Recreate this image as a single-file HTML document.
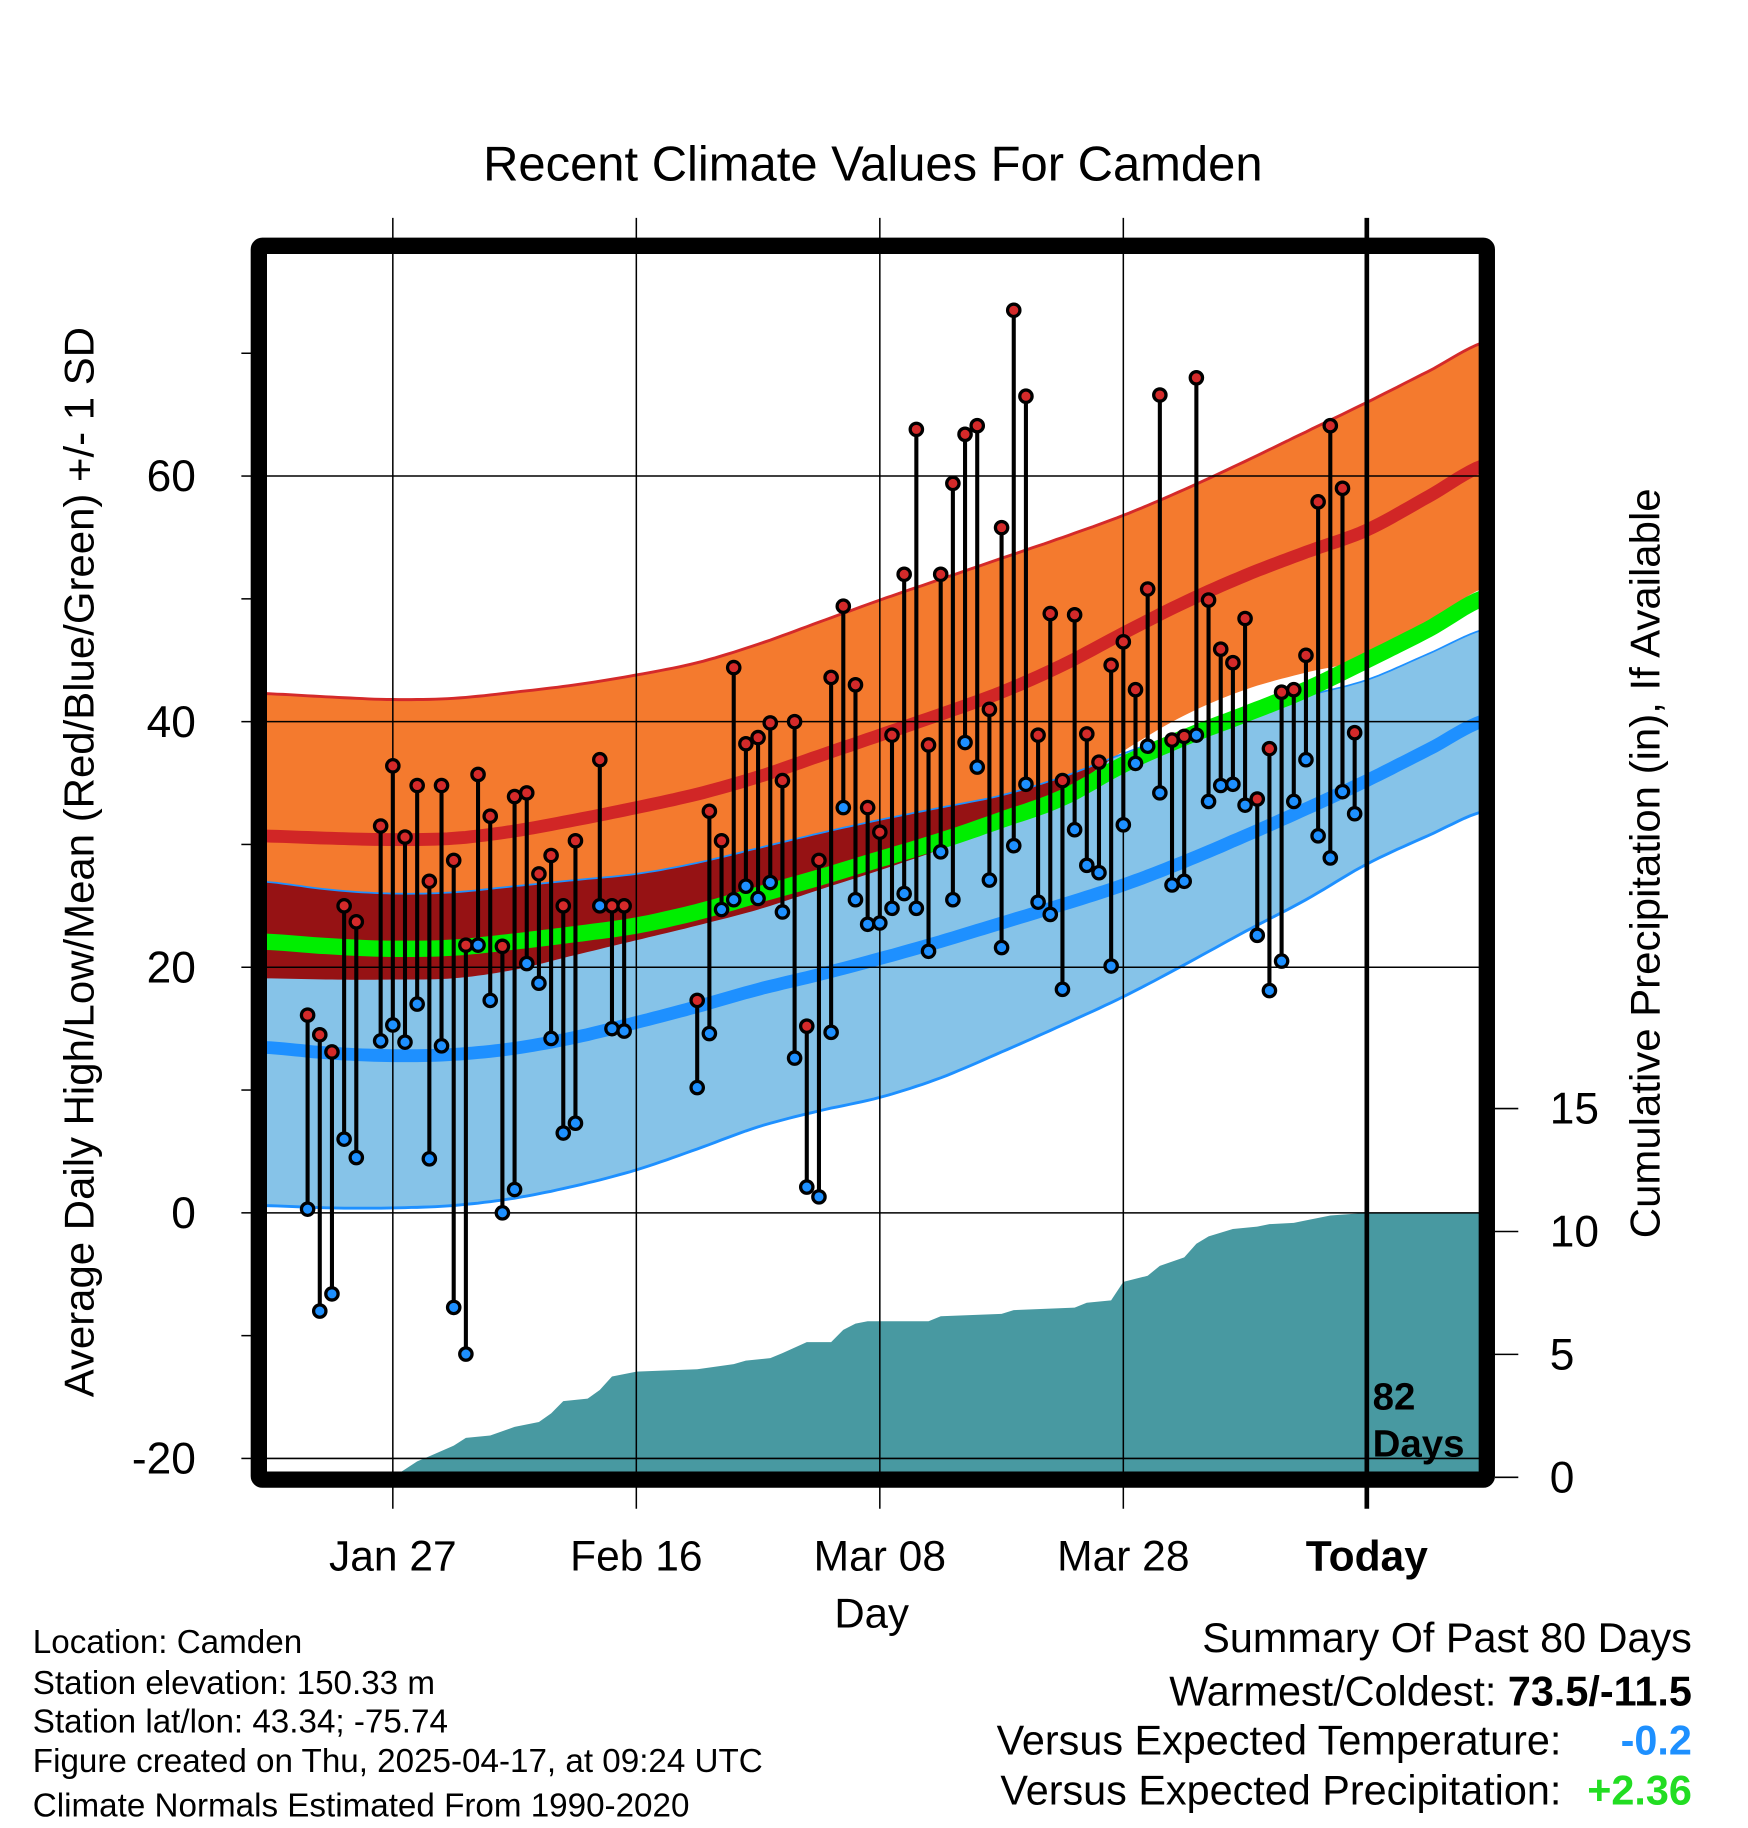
<!DOCTYPE html>
<html><head><meta charset="utf-8"><style>
html,body{margin:0;padding:0;background:#fff;}
svg{display:block;font-family:"Liberation Sans",Arial,sans-serif;}
</style></head><body>
<svg id="chart" width="1748" height="1828" viewBox="0 0 1500 1569" xmlns="http://www.w3.org/2000/svg">
<text x="749" y="155" text-anchor="middle" font-size="42">Recent Climate Values For Camden</text>
<text transform="translate(80,740) rotate(-90)" text-anchor="middle" font-size="36">Average Daily High/Low/Mean (Red/Blue/Green) +/- 1 SD</text>
<text transform="translate(1424,741) rotate(-90)" text-anchor="middle" font-size="36">Cumulative Precipitation (in), If Available</text>
<text x="748" y="1397" text-anchor="middle" font-size="36">Day</text>
<g font-size="28.5">
<text x="28" y="1419">Location: Camden</text>
<text x="28" y="1454">Station elevation: 150.33 m</text>
<text x="28" y="1487">Station lat/lon: 43.34; -75.74</text>
<text x="28" y="1521">Figure created on Thu, 2025-04-17, at 09:24 UTC</text>
<text x="28" y="1559">Climate Normals Estimated From 1990-2020</text>
</g>
<g font-size="35.5">
<text x="1452" y="1418" text-anchor="end">Summary Of Past 80 Days</text>
<text x="1452" y="1464" text-anchor="end">Warmest/Coldest: <tspan font-weight="bold">73.5/-11.5</tspan></text>
<text x="1340" y="1506" text-anchor="end">Versus Expected Temperature:</text>
<text x="1452" y="1506" text-anchor="end" font-weight="bold" fill="#1E90FF">-0.2</text>
<text x="1340" y="1549" text-anchor="end">Versus Expected Precipitation:</text>
<text x="1452" y="1549" text-anchor="end" font-weight="bold" fill="#22DD22">+2.36</text>
</g>
<defs><clipPath id="plotclip"><rect x="229" y="217" width="1041" height="1046"/></clipPath></defs>
<g id="plot" clip-path="url(#plotclip)"></g>
<g id="over"></g>
</svg>
<script>
// ---- data (days relative to Jan 27) ----
const obsDays = [-7,-6,-5,-4,-3,-1,0,1,2,3,4,5,6,7,8,9,10,11,12,13,14,15,17,18,19,25,26,27,28,29,30,31,32,33,34,35,36,37,38,39,40,41,42,43,44,45,46,47,48,49,50,51,52,53,54,55,56,57,58,59,60,61,62,63,64,65,66,67,68,69,70,71,72,73,74,75,76,77,78,79];
const highs = [16.1,14.5,13.1,25,23.7,31.5,36.4,30.6,34.8,27,34.8,28.7,21.8,35.7,32.3,21.7,33.9,34.2,27.6,29.1,25,30.3,36.9,25,25,17.3,32.7,30.3,44.4,38.2,38.7,39.9,35.2,40,15.2,28.7,43.6,49.4,43,33,31,38.9,52,63.8,38.1,52,59.4,63.4,64.1,41,55.8,73.5,66.5,38.9,48.8,35.2,48.7,39,36.7,44.6,46.5,42.6,50.8,66.6,38.5,38.8,68,49.9,45.9,44.8,48.4,33.7,37.8,42.4,42.6,45.4,57.9,64.1,59,39.1];
const lows = [0.3,-8,-6.6,6,4.5,14,15.3,13.9,17,4.4,13.6,-7.7,-11.5,21.8,17.3,0,1.9,20.3,18.7,14.2,6.5,7.3,25,15,14.8,10.2,14.6,24.7,25.5,26.6,25.6,26.9,24.5,12.6,2.1,1.3,14.7,33,25.5,23.5,23.6,24.8,26,24.8,21.3,29.4,25.5,38.3,36.3,27.1,21.6,29.9,34.9,25.3,24.3,18.2,31.2,28.3,27.7,20.1,31.6,36.6,38,34.2,26.7,27,38.9,33.5,34.8,34.9,33.2,22.6,18.1,20.5,33.5,36.9,30.7,28.9,34.3,32.5];
const normDays = [-11,-5,0,5,10,15,20,25,30,35,40,45,50,55,60,65,70,75,80,85,90];
const highMean = [30.7,30.5,30.4,30.5,31.1,32,33,34.1,35.5,37.2,38.9,40.6,42.4,44.6,47.2,49.7,51.9,53.8,55.6,58.3,61];
const highTop  = [42.3,42,41.8,41.9,42.4,43,43.8,44.8,46.3,48.1,49.9,51.6,53.3,55,56.8,58.9,61.2,63.6,66,68.5,71];
const lowMean  = [13.5,13,12.8,12.9,13.4,14.3,15.5,16.8,18.2,19.4,20.7,22.1,23.6,25.1,26.7,28.6,30.7,32.9,35.2,37.7,40.2];
const lowTop   = [27,26.3,26,26.1,26.6,27.1,27.6,28.5,29.7,30.9,32,33,34,35.5,37.4,39.2,40.8,42.1,43.4,45.5,47.6];
const lowBot   = [0.6,0.4,0.4,0.6,1.2,2.2,3.5,5.2,7,8.3,9.4,11,13.1,15.3,17.6,20.2,22.9,25.5,28.4,30.7,32.8];
const meanT    = [22.1,21.7,21.5,21.6,22.1,22.7,23.4,24.5,25.9,27.3,28.8,30.3,32,33.8,36.5,38.7,40.6,42.6,45,47.5,50.2];
const precipDays = [0,2,3,5,6,8,10,12,13,14,16,17,18,20,25,28,29,31,32,34,36,37,38,39,41,44,45,50,51,56,57,59,60,62,63,65,66,67,69,71,72,74,75,77,80,89];
const precipVals = [0,0.65,0.86,1.29,1.6,1.7,2.05,2.25,2.6,3.1,3.2,3.55,4.1,4.3,4.4,4.6,4.75,4.85,5.05,5.5,5.5,6.0,6.25,6.35,6.35,6.35,6.55,6.65,6.8,6.9,7.1,7.2,7.95,8.2,8.6,8.95,9.5,9.8,10.1,10.2,10.3,10.35,10.45,10.65,10.76,10.76];
const xTickDays = [0,20,40,60,80];
const xTickLabels = ["Jan 27","Feb 16","Mar 08","Mar 28","Today"];
const yTicks = [-20,0,20,40,60];
const y2Ticks = [0,5,10,15];

// ---- axes ----
const X = d => 337 + d*10.45;
const Y = v => 1041 - v*10.54;
const Y2 = v => 1268 - v*21.1;
const NS = "http://www.w3.org/2000/svg";
const plot = document.getElementById('plot');
const over = document.getElementById('over');
function mk(tag, attrs, parent){ const e=document.createElementNS(NS,tag); for(const k in attrs) e.setAttribute(k,attrs[k]); parent.appendChild(e); return e; }
function interp(arr, d){
  const n=normDays.length;
  if(d<=normDays[0]) return arr[0];
  if(d>=normDays[n-1]) return arr[n-1];
  let i=1; while(d>normDays[i]) i++;
  const t=(d-normDays[i-1])/(normDays[i]-normDays[i-1]);
  const p0=arr[Math.max(i-2,0)], p1=arr[i-1], p2=arr[i], p3=arr[Math.min(i+1,n-1)];
  const t2=t*t, t3=t2*t;
  return 0.5*((2*p1)+(-p0+p2)*t+(2*p0-5*p1+4*p2-p3)*t2+(-p0+3*p1-3*p2+p3)*t3);
}
const samp=[]; for(let d=-11; d<=90; d+=0.5) samp.push(d);
const line = (arr)=> samp.map(d=>X(d).toFixed(1)+','+Y(interp(arr,d)).toFixed(1)).join(' ');
function band(topF, botF){ const a=samp.map(d=>X(d).toFixed(1)+','+Y(topF(d)).toFixed(1)); const b=samp.slice().reverse().map(d=>X(d).toFixed(1)+','+Y(botF(d)).toFixed(1)); return a.concat(b).join(' '); }
const hT=d=>interp(highTop,d), hM=d=>interp(highMean,d), hB=d=>2*hM(d)-hT(d);
const lT=d=>interp(lowTop,d), lB=d=>interp(lowBot,d);

let e;
e=mk('polygon',{points:band(hT,hB),fill:'#F47A2E'},plot);
 
e=mk('polygon',{points:band(lT,lB),fill:'#86C3E8'},plot);
 
e=mk('polygon',{points:band(lT,d=>Math.min(lT(d),hB(d))),fill:'#961214'},plot);
 
e=mk('polyline',{points:line(highTop),fill:'none',stroke:'#D42A2A','stroke-width':2.5},plot);
 
e=mk('polyline',{points:line(lowTop),fill:'none',stroke:'#1E90FF','stroke-width':1.5},plot);
 
e=mk('polyline',{points:line(lowBot),fill:'none',stroke:'#1E90FF','stroke-width':2.5},plot);
 
e=mk('polyline',{points:line(highMean),fill:'none',stroke:'#D12626','stroke-width':11},plot);
 
e=mk('polyline',{points:line(lowMean),fill:'none',stroke:'#1E90FF','stroke-width':11},plot);
 
e=mk('polyline',{points:line(meanT),fill:'none',stroke:'#00EE00','stroke-width':14},plot);
 

// precipitation
let pp=[X(precipDays[0])+','+Y2(0)];
for(let i=0;i<precipDays.length;i++){ pp.push(X(precipDays[i]).toFixed(1)+','+Y2(precipVals[i]).toFixed(1)); }
pp.push(X(90)+','+Y2(precipVals[precipVals.length-1]).toFixed(1)); pp.push(X(90)+','+Y2(-1)); pp.push(X(precipDays[0])+','+Y2(-1));
e=mk('polygon',{points:pp.join(' '),fill:'#4899A1'},plot);
 

// grid
yTicks.forEach(v=>{
  e=mk('line',{x1:229,x2:1270,y1:Y(v),y2:Y(v),stroke:'#000','stroke-width':1.3},plot);
   
});
xTickDays.forEach((d,i)=>{
  e=mk('line',{x1:X(d),x2:X(d),y1:187,y2:1295,stroke:'#000','stroke-width':i==4?4:1.3},over);
   
  e=mk('text',{x:X(d),y:1348,'text-anchor':'middle','font-size':36.5,'font-weight':i==4?'bold':'normal'},over);
  e.textContent=xTickLabels[i];
   
});

// stems and markers
const markers = mk('g',{},over);
obsDays.forEach((d,i)=>{
  e=mk('line',{x1:X(d),x2:X(d),y1:Y(highs[i]),y2:Y(lows[i]),stroke:'#000','stroke-width':3.5},markers);
   
});
obsDays.forEach((d,i)=>{
  e=mk('circle',{cx:X(d),cy:Y(lows[i]),r:5.3,fill:'#1E90FF',stroke:'#000','stroke-width':2.8},markers);
   
  e=mk('circle',{cx:X(d),cy:Y(highs[i]),r:5.3,fill:'#D42A2A',stroke:'#000','stroke-width':2.8},markers);
   
});

// frame
e=mk('rect',{x:222,y:211,width:1054,height:1059,fill:'none',stroke:'#000','stroke-width':14,rx:3},over);
 

// y ticks and labels
for(let v=-20; v<=70; v+=10){
  e=mk('line',{x1:207,x2:216,y1:Y(v),y2:Y(v),stroke:'#000','stroke-width':1.3},over);
   
}
yTicks.forEach(v=>{
  e=mk('text',{x:168,y:Y(v)+13,'text-anchor':'end','font-size':38},over);
  e.textContent=String(v);
   
});
y2Ticks.forEach(v=>{
  e=mk('line',{x1:1283,x2:1303,y1:Y2(v),y2:Y2(v),stroke:'#000','stroke-width':1.3},over);
   
  e=mk('text',{x:1330,y:Y2(v)+13,'font-size':38},over);
  e.textContent=String(v);
   
});
e=mk('text',{x:1178,y:1210,'font-size':33,'font-weight':'bold'},over); e.textContent='82';
 
e=mk('text',{x:1178,y:1250,'font-size':33,'font-weight':'bold'},over); e.textContent='Days';
 
</script>
</body></html>
